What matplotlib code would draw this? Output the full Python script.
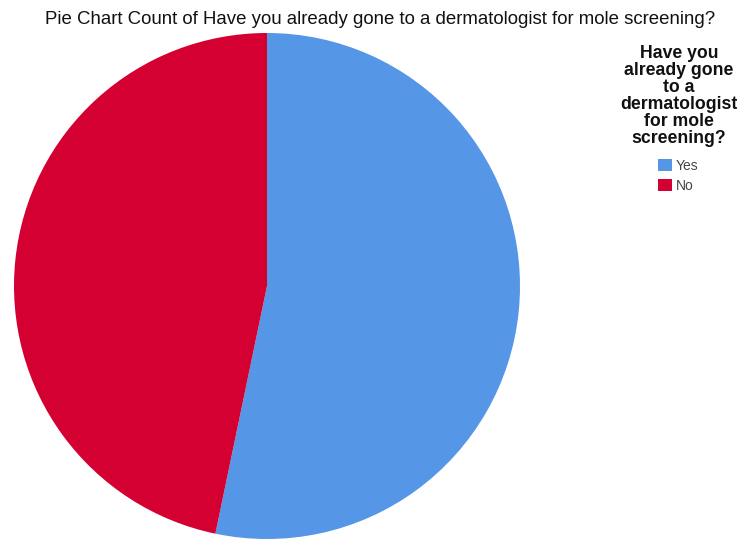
import matplotlib.pyplot as plt

plt.rcParams['font.family'] = ['Liberation Sans', 'DejaVu Sans']

labels = ['Yes', 'No']
counts = [57, 50]
colors = ['#5596E6', '#D50032']

fig = plt.figure(figsize=(7.41, 5.40), dpi=100)

# pie axes, centre ~ (267, 286) px, radius ~ 253 px
cx, cy, r = 267, 286, 253
W, H = 741, 540
ax = fig.add_axes([(cx - r) / W, (H - cy - r) / H, 2 * r / W, 2 * r / H])
wedges, _ = ax.pie(counts, colors=colors, startangle=90, counterclock=False,
                   radius=1, wedgeprops=dict(linewidth=0))
ax.set_xlim(-1, 1)
ax.set_ylim(-1, 1)
ax.set_aspect('equal')
ax.axis('off')

fig.text(380 / W, 1 - 19 / H,
         'Pie Chart Count of Have you already gone to a dermatologist for mole screening?',
         ha='center', va='center', fontsize=13.4, color='#111111')

fig.text(679 / W, 1 - 96 / H,
         'Have you\nalready gone\nto a\ndermatologist\nfor mole\nscreening?',
         ha='center', va='center', fontsize=12.7, fontweight='bold',
         linespacing=1.0, color='#111111')

fig.legend(wedges, labels, loc='upper left',
           bbox_to_anchor=(658 / W, 1 - 159 / H), frameon=False,
           fontsize=10, handlelength=1.0, handleheight=1.0,
           handletextpad=0.3, labelspacing=0.4, borderpad=0,
           borderaxespad=0, labelcolor='#444444')

fig.savefig('out.png', dpi=100)
